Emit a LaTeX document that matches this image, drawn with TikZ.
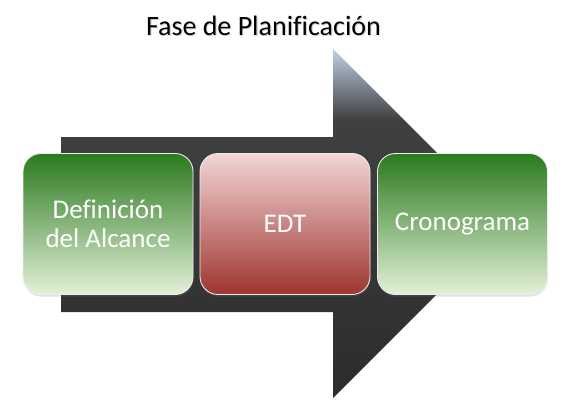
\documentclass[tikz,border=0pt]{standalone}
\usepackage{fontspec}
\setmainfont[Ligatures={NoCommon}]{Carlito}
\usetikzlibrary{shadows}
\definecolor{arrowtop}{HTML}{C3CFE3}
\definecolor{arrowmid}{HTML}{737A84}
\definecolor{arrowdark}{HTML}{404040}
\definecolor{arrowbot}{HTML}{2C2C2C}
\definecolor{gtop}{HTML}{2B7A1E}
\definecolor{gmid}{HTML}{94B86A}
\definecolor{gbot}{HTML}{E3F0D8}
\definecolor{rtop}{HTML}{F2D6D6}
\definecolor{rmid}{HTML}{D89492}
\definecolor{rbot}{HTML}{9E3530}
\pgfdeclareverticalshading{arrowshade}{100bp}{color(0bp)=(arrowbot); color(25bp)=(arrowbot); color(64.8bp)=(arrowdark); color(69bp)=(arrowmid); color(75bp)=(arrowtop); color(100bp)=(arrowtop)}
\tikzset{
  card/.style={rounded corners=18pt, minimum width=170pt, minimum height=141pt,
    inner sep=0pt, align=center, text=white, font=\fontsize{27}{29}\selectfont,
    draw=white!85!gray, line width=0.9pt,
    drop shadow={opacity=0.22, shadow xshift=0.6pt, shadow yshift=-2.2pt}},
  greencard/.style={card, top color=gtop, middle color=gmid, bottom color=gbot},
  redcard/.style={card, top color=rtop, middle color=rmid, bottom color=rbot},
  titletext/.style={font=\fontsize{28}{30}\selectfont, inner sep=0pt}
}
\begin{document}
\begin{tikzpicture}[x=1pt,y=-1pt]
\useasboundingbox (0,0) rectangle (567,407);
% big arrow
\shade[shading=arrowshade] (61,137) -- (333,137) -- (333,49) -- (507.5,223.5)
  -- (333,398) -- (333,312) -- (61,312) -- cycle;
% title
\node[titletext, text=black!40, opacity=0.4] (titleshadow) at (264.7,26.9) {Fase de Planificación};
\node[titletext, text=black] (title) at (263.5,25.5) {Fase de Planificación};
% boxes
\node[greencard] (alcance) at (108,224) {Definición\\del Alcance};
\node[redcard] (edt) at (285,224) {EDT};
\node[greencard] (crono) at (462.5,224) {Cronograma};
\end{tikzpicture}
\end{document}
